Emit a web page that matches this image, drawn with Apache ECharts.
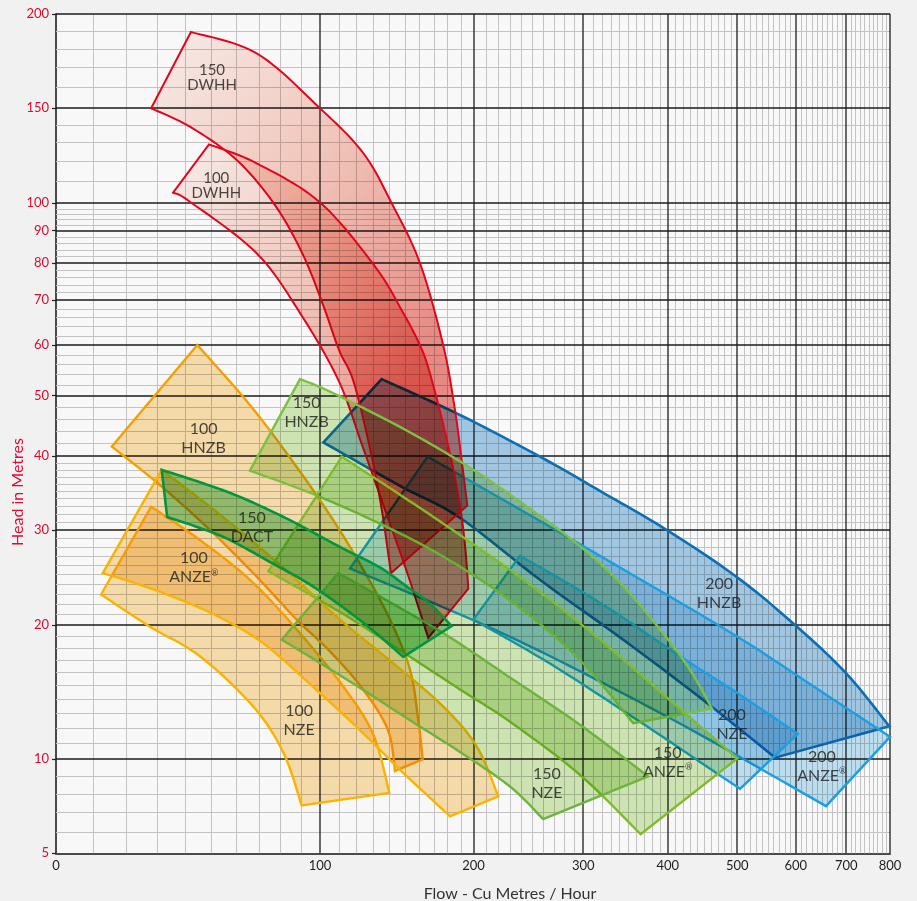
<!DOCTYPE html>
<html><head><meta charset="utf-8">
<script src="https://cdn.jsdelivr.net/npm/echarts@6/dist/echarts.min.js"></script>
<style>html,body{margin:0;padding:0;background:#f1f1f1}#c{width:917px;height:901px}</style>
</head><body><div id="c"></div>
<script>
// ---- printed axis ticks ----
const flowTicks = [0,100,200,300,400,500,600,700,800];
const headTicks = [5,10,20,30,40,50,60,70,80,90,100,150,200];
// chart-paper ruling: distance of each printed tick from the origin (the paper is not a pure log scale)
const flowRuling = [0,264,417.5,527.3,611.7,681.3,739.7,790.3,834];
const headRuling = [0,94,228.3,323.3,397.3,457.6,508.3,553,590.3,622.6,650,745,839.3];

// ---- pump envelopes: [flow m3/h, head m], upper curve (top -> right) and lower curve (left -> bottom) ----
const dwhh150Upper = [[42.2,189.4],[69.1,177.5],[100,150],[124.2,124],[141.6,100],[160.4,79.9],[176.9,59.9],[185.6,47.5],[190.7,39.4],[195.1,33.05]];
const dwhh150Lower = [[28.1,150],[41.8,138.8],[60.4,120.5],[77.5,99.3],[91.2,82.4],[101.6,68.9],[110.3,58.9],[118.2,52.9],[127,42.5],[134.9,33.1],[141.1,25.1]];
const dwhh100Upper = [[49.1,128.8],[69.1,118.8],[100,100.4],[131.2,79],[149.1,67],[160.4,59.9],[167.3,54.2],[179.6,42.5],[188.7,33.8],[193.3,28.2],[195.9,23.5]];
const dwhh100Lower = [[35.7,104.7],[41.8,100.7],[69.1,82.9],[89.7,67],[109.9,52.9],[123.4,41.7],[137.4,32.5],[152.2,24.9],[166.1,18.85]];
const hnzb100Upper = [[44.6,60],[66.1,48.35],[87.2,38.7],[107.1,31.2],[124.2,25.45],[140.5,20.5],[153.6,16.2],[159.2,12.5],[162.2,10]];
const hnzb100Lower = [[15.6,41.45],[31.1,35.8],[49.5,30],[68.4,24.9],[88,20.5],[105.3,17.7],[124,14.7],[139.2,11.85],[143.7,9.3]];
const anze100Upper = [[31.7,37.95],[53.5,31.9],[79.9,26],[110.8,20.5],[144.8,16.5],[176.9,13.45],[202.5,10.8],[220.1,7.86]];
const anze100Lower = [[12.9,25.1],[24.4,23.9],[38.2,22.4],[53.5,20.7],[72,18.4],[96.3,14.9],[124,11.65],[148.9,9.2],[181.9,6.8]];
const nze100Upper = [[28.1,32.9],[45.6,28.8],[66.1,24.4],[88,19.6],[112.7,14.9],[130.1,11.55],[140.1,8.05]];
const nze100Lower = [[12.4,22.9],[27.7,19.85],[45.6,17.3],[67.6,13.45],[81.5,10.4],[90.5,7.37]];
const dact150Upper = [[31.7,37.95],[45.6,36.2],[61.8,34.2],[84.7,31.2],[110.8,28],[134.3,25.7],[151.4,23.7],[167.3,22],[183.1,19.9]];
const dact150Lower = [[33.6,31.6],[45.6,30.25],[57.6,28.8],[75.2,26.3],[96.4,23.7],[124.2,20.2],[149.1,17.25]];
const hnzb150Upper = [[89.7,53.1],[105.3,50.75],[146.9,44.6],[189.4,39.2],[230.1,34.5],[293.1,28.4],[340.7,24.1],[389.9,19.6],[430.1,16.2],[461.5,13.3]];
const hnzb150Lower = [[66.1,37.85],[100,34.2],[146.9,29.6],[189.4,25.8],[238.8,21.6],[296.5,17],[356.5,12.3]];
const anze150Upper = [[111.8,39.9],[146.9,34.5],[189.4,29.4],[247.8,23.9],[318,18.7],[403,13.9],[500,10.05]];
const anze150Lower = [[74.4,25.3],[110.8,21.2],[146.9,17.8],[189.4,14.7],[230.1,12.4],[296.5,9.07],[365.5,5.9]];
const nze150Upper = [[109.9,25.1],[146.9,21.6],[181.9,18.9],[230.1,15.6],[296.5,12.2],[374.6,8.98]];
const nze150Lower = [[80.7,18.7],[116.4,15.3],[153.6,12.5],[189.4,10.45],[230.1,8.4],[260.1,6.65]];
const hnzb200Upper = [[135.3,53.1],[189.4,46.6],[257,39.9],[318,35],[398.7,30],[499,24.7],[598.7,20],[700.4,15.9],[798.3,12.1]];
const hnzb200Lower = [[101.8,42.1],[146.9,35.7],[189.4,31.5],[257,24.4],[340.7,18.9],[444.1,14.1],[562.8,10.1]];
const anze200Upper = [[165.7,39.9],[189.4,37.2],[257,31.1],[340.7,25.7],[499,19],[626.9,15.1],[800,11.4]];
const anze200Lower = [[116.4,25.6],[167.3,22.2],[230.1,18.95],[318,15.3],[444.1,11.55],[658.3,7.33]];
const nze200Upper = [[238.8,27],[318,22.1],[416.4,17.3],[504.3,14.3],[603.7,11.6]];
const nze200Lower = [[199.9,20.5],[266.5,16.7],[364.7,12.4],[444.1,9.84],[504.3,8.27]];

// ---- envelope labels ----
const labelNames = ['150\nDWHH','100\nDWHH','100\nHNZB','150\nHNZB','150\nDACT','100\nANZE{r|®}','100\nNZE','150\nNZE','150\nANZE{r|®}','200\nNZE','200\nANZE{r|®}','200\nHNZB'];
const labelFlow = [50.3,52,47,93,67,43.3,89.2,263.6,400,491.6,650,472];
const labelHead = [164.6,108,42.7,47.1,30.3,25.7,12.5,8.56,9.84,12.2,9.6,23];

// ---- paper scale ----
function paper(v, ticks, ruling, c) {
  let i = 0;
  while (i < ticks.length - 2 && v > ticks[i + 1]) i++;
  const a = Math.log(ticks[i] + c), b = Math.log(ticks[i + 1] + c);
  return ruling[i] + (Math.log(v + c) - a) / (b - a) * (ruling[i + 1] - ruling[i]);
}
const px = f => paper(f, flowTicks, flowRuling, 95);
const py = h => paper(h, headTicks, headRuling, 10);
function tickName(v, ticks, fn) {
  let best = 0, d = 1e9;
  ticks.forEach((t, i) => { const e = Math.abs(fn(t) - v); if (e < d) { d = e; best = i; } });
  return String(ticks[best]);
}

// ---- ruling lines ----
const gridData = [];
for (let v = 10; v < 800; v += 10) if (v % 100 !== 0) gridData.push([0, v, 0]);
const headSteps = [[5,40,1],[40,100,2],[100,200,10]];
headSteps.forEach(([a, b, s]) => { for (let v = a + s; v < b; v += s) if (headTicks.indexOf(v) < 0) gridData.push([1, v, 0]); });
flowTicks.slice(1).forEach(v => gridData.push([0, v, 1]));
headTicks.slice(1).forEach(v => gridData.push([1, v, 1]));

const orangeFill = 'rgba(245,178,62,0.42)';
const greenFill = 'rgba(150,204,84,0.42)';
const blueFill = 'rgba(42,133,200,0.42)';
const lightBlueFill = 'rgba(64,172,224,0.32)';
const redFill = () => new echarts.graphic.LinearGradient(0, 0, 1, 0.5, [
  {offset: 0, color: 'rgba(252,230,222,0.5)'},
  {offset: 0.5, color: 'rgba(242,160,140,0.55)'},
  {offset: 1, color: 'rgba(226,72,60,0.62)'}
]);

// drawing order: orange, blue, red, green, DACT
const shapes = [
  {upper: hnzb100Upper, lower: hnzb100Lower, fill: orangeFill, stroke: '#f4a000', w: 2.4},
  {upper: nze100Upper, lower: nze100Lower, fill: orangeFill, stroke: '#fab400', w: 2.4},
  {upper: anze100Upper, lower: anze100Lower, fill: orangeFill, stroke: '#fab400', w: 2.4},
  {upper: hnzb200Upper, lower: hnzb200Lower, fill: blueFill, stroke: '#0b6fb5', w: 2.6},
  {upper: anze200Upper, lower: anze200Lower, fill: lightBlueFill, stroke: '#1aa0e0', w: 2.4},
  {upper: nze200Upper, lower: nze200Lower, fill: lightBlueFill, stroke: '#1aa0e0', w: 2.4},
  {upper: dwhh150Upper, lower: dwhh150Lower, fill: redFill(), stroke: '#e3051b', w: 2},
  {upper: dwhh100Upper, lower: dwhh100Lower, fill: redFill(), stroke: '#e3051b', w: 2},
  {upper: hnzb150Upper, lower: hnzb150Lower, fill: greenFill, stroke: '#7cc242', w: 2.4},
  {upper: anze150Upper, lower: anze150Lower, fill: greenFill, stroke: '#80bc2a', w: 2.4},
  {upper: nze150Upper, lower: nze150Lower, fill: greenFill, stroke: '#6db33f', w: 2.4},
  {upper: dact150Upper, lower: dact150Lower, fill: 'rgba(50,182,70,0.5)', stroke: '#00953f', w: 2.6}
];

function smooth(pts) {
  if (pts.length < 3) return pts.slice();
  const out = [], n = pts.length;
  for (let i = 0; i < n - 1; i++) {
    const p0 = pts[Math.max(i - 1, 0)], p1 = pts[i], p2 = pts[i + 1], p3 = pts[Math.min(i + 2, n - 1)];
    for (let s = 0; s < 12; s++) {
      const t = s / 12, t2 = t * t, t3 = t2 * t;
      const f = k => 0.5 * (2 * p1[k] + (-p0[k] + p2[k]) * t + (2 * p0[k] - 5 * p1[k] + 4 * p2[k] - p3[k]) * t2 + (-p0[k] + 3 * p1[k] - 3 * p2[k] + p3[k]) * t3);
      out.push([f(0), f(1)]);
    }
  }
  out.push(pts[n - 1]);
  return out;
}
function outline(s, api) {
  const toPix = p => api.coord([px(p[0]), py(p[1])]);
  return smooth(s.upper.map(toPix)).concat(smooth(s.lower.map(toPix)).reverse());
}

const chart = echarts.init(document.getElementById('c'), null, {renderer: 'canvas', width: 917, height: 901});
const FONT = 'Lato, "Open Sans", sans-serif';

const series = [{
  type: 'custom', z: 1, silent: true, data: gridData,
  renderItem(params, api) {
    const cs = params.coordSys;
    const o = api.value(0), v = api.value(1), major = api.value(2);
    const style = major ? {stroke: '#1c1c1c', lineWidth: 1.3} : {stroke: '#c3c3c3', lineWidth: 1};
    if (o === 0) {
      let x = api.coord([px(v), 0])[0];
      x = major ? Math.round(x) : Math.round(x) + 0.5;
      return {type: 'line', shape: {x1: x, y1: cs.y, x2: x, y2: cs.y + cs.height}, style};
    }
    let y = api.coord([0, py(v)])[1];
    y = major ? Math.round(y) : Math.round(y) + 0.5;
    return {type: 'line', shape: {x1: cs.x, y1: y, x2: cs.x + cs.width, y2: y}, style};
  }
}];
shapes.forEach((s, i) => {
  series.push({
    type: 'custom', z: 10 + 2 * i, silent: true, blendMode: 'multiply', data: [[0]],
    renderItem(params, api) {
      return {type: 'polygon', shape: {points: outline(s, api)}, style: {fill: s.fill}};
    }
  });
  series.push({
    type: 'custom', z: 11 + 2 * i, silent: true, data: [[0]],
    renderItem(params, api) {
      return {type: 'polygon', shape: {points: outline(s, api)}, style: {fill: 'none', stroke: s.stroke, lineWidth: s.w, lineJoin: 'miter'}};
    }
  });
});
series.push({
  type: 'scatter', z: 60, silent: true, symbolSize: 0,
  data: labelNames.map((n, i) => ({
    name: n, value: [px(labelFlow[i]), py(labelHead[i])],
    label: i < 2 ? {fontSize: 15, lineHeight: 15} : {}
  })),
  label: {
    show: true, position: 'inside', formatter: p => p.name,
    color: '#1b1b1b', fontFamily: FONT, fontSize: 16, lineHeight: 19,
    rich: {r: {fontSize: 9, fontFamily: FONT, color: '#1b1b1b', padding: [0, 0, 8, 0]}}
  }
});

chart.setOption({
  animation: false,
  backgroundColor: '#f1f1f1',
  grid: {left: 56, right: 27, top: 14, bottom: 47.7, show: true, backgroundColor: '#f8f8f8', borderWidth: 0},
  xAxis: {
    type: 'value', min: 0, max: 834,
    axisLine: {show: true, onZero: false, lineStyle: {color: '#4a4a4a', width: 2}},
    axisTick: {show: false}, splitLine: {show: false},
    axisLabel: {customValues: flowTicks.map(px), formatter: v => tickName(v, flowTicks, px), color: '#1e1e1e', fontFamily: FONT, fontSize: 13, margin: 6}
  },
  yAxis: {
    type: 'value', min: 0, max: 839.3,
    axisLine: {show: true, onZero: false, lineStyle: {color: '#4a4a4a', width: 2}},
    axisTick: {show: true, customValues: headTicks.map(py), length: 4, lineStyle: {color: '#222', width: 1.2}},
    splitLine: {show: false},
    axisLabel: {customValues: headTicks.map(py), formatter: v => tickName(v, headTicks, py), color: '#e3092d', fontFamily: FONT, fontSize: 13, margin: 7}
  },
  graphic: [
    {type: 'text', x: 510, y: 894, silent: true, style: {text: 'Flow - Cu Metres / Hour', fill: '#333', fontFamily: FONT, fontSize: 16, align: 'center', verticalAlign: 'middle'}},
    {type: 'text', x: 18, y: 492, rotation: Math.PI / 2, silent: true, style: {text: 'Head in Metres', fill: '#e3092d', fontFamily: FONT, fontSize: 16, align: 'center', verticalAlign: 'middle'}}
  ],
  series
});
</script></body></html>
